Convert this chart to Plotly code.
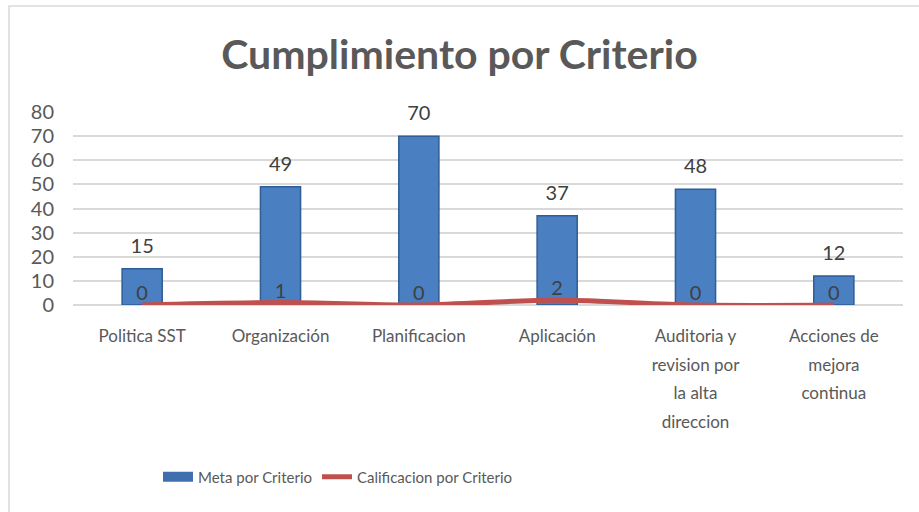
import plotly.graph_objects as go

categorias = ["Politica SST", "Organización", "Planificacion", "Aplicación",
              "Auditoria y<br>revision por<br>la alta<br>direccion",
              "Acciones de<br>mejora<br>continua"]
meta = [15, 49, 70, 37, 48, 12]
calificacion = [0, 1, 0, 2, 0, 0]
y_ticks = [0, 10, 20, 30, 40, 50, 60, 70, 80]

FONT = "Lato, Noto Sans, sans-serif"
AZUL = "#4a7fc1"
ROJO = "#c0504d"

# etiquetas del eje x: interlineado grande, letra mas pequena
etiquetas = ["<br>".join(f"<span style='font-size:17px'>{p}</span>" for p in c.split("<br>"))
             for c in categorias]

fig = go.Figure()
fig.add_trace(go.Bar(
    name="Meta por Criterio", x=categorias, y=meta, showlegend=False,
    marker=dict(color=AZUL, line=dict(color="#2f5d95", width=1.5)),
    width=0.29,
))
fig.add_trace(go.Scatter(
    x=categorias, y=meta, mode="markers+text", showlegend=False, hoverinfo="skip",
    marker=dict(size=16, opacity=0), text=meta, textposition="top center",
    textfont=dict(size=20, color="#404040", family=FONT), cliponaxis=False,
))
fig.add_trace(go.Scatter(
    name="Meta por Criterio", x=[None], y=[None], mode="lines",
    line=dict(color="#3f70ad", width=10),
))
fig.add_trace(go.Scatter(
    name="Calificacion por Criterio", x=categorias, y=calificacion,
    mode="lines+text", line=dict(color=ROJO, width=5, shape="spline"),
    text=calificacion, textposition="top center",
    textfont=dict(size=20, color="#404040", family=FONT),
))
fig.update_layout(
    width=919, height=512,
    title=dict(text="<b>Cumplimiento por Criterio</b>", x=0.5, xanchor="center",
               y=1 - 55 / 512, yanchor="middle",
               font=dict(size=41, color="#595959", family=FONT)),
    plot_bgcolor="white", paper_bgcolor="white",
    margin=dict(l=73, r=16, t=112, b=207),
    font=dict(family=FONT, color="#595959", size=16),
    bargap=0.71,
    xaxis=dict(showgrid=False, showline=False, ticks="",
               tickmode="array", tickvals=categorias, ticktext=etiquetas,
               tickfont=dict(size=22, color="#595959"), ticklabelstandoff=14),
    yaxis=dict(range=[0, 80], tickvals=y_ticks, showgrid=True, gridcolor="#d9d9d9",
               gridwidth=1.5, zeroline=True, zerolinecolor="#d9d9d9", zerolinewidth=1.5,
               tickfont=dict(size=20, color="#595959"), ticklabelstandoff=18),
    legend=dict(orientation="h", xref="container", x=158 / 919, xanchor="left",
                yref="container", y=1 - 477 / 512, yanchor="middle",
                font=dict(size=15, color="#595959")),
    showlegend=True,
    shapes=[dict(type="rect", xref="paper", yref="paper",
                 x0=(9 - 73) / 830, x1=1.2, y0=-1.5, y1=(305 - 6) / 193,
                 line=dict(color="#d9d9d9", width=1.5), layer="below")],
)
fig.write_html("out.html", config={"displayModeBar": False},
               post_script="document.body.style.margin='0';")
